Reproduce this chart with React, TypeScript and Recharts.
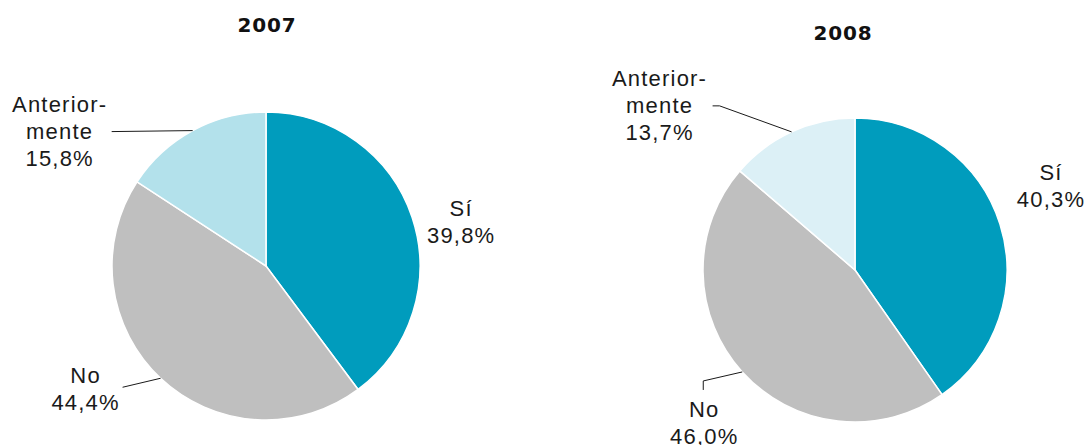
import React from "react";
import { PieChart, Pie, Cell, Customized } from "recharts";

const categories = ["Sí", "No", "Anteriormente"];
const categoryLines = [["Sí"], ["No"], ["Anterior-", "mente"]];
const values2007 = [39.8, 44.4, 15.8];
const values2008 = [40.3, 46.0, 13.7];
const years = ["2007", "2008"];

const colors2007 = ["#009CBD", "#BFBFBF", "#B3E1EB"];
const colors2008 = ["#009CBD", "#BFBFBF", "#DCF0F6"];

const data2007 = categories.map((name, i) => ({ name, value: values2007[i] }));
const data2008 = categories.map((name, i) => ({ name, value: values2008[i] }));

const FONT = "'Liberation Sans', Arial, sans-serif";
const TITLE_FONT = "'DejaVu Sans', Verdana, sans-serif";
const FS = 22;
const LH = 27;
const RAD = Math.PI / 180;

type LabelLayout = { text: [number, number]; leader: [number, number][] };

const layout2007: LabelLayout[] = [
  { text: [49, 5], leader: [] },
  { text: [-75, 11], leader: [[-38, 9]] },
  { text: [-133, 1], leader: [[-81, 1]] },
];
const layout2008: LabelLayout[] = [
  { text: [51, -38], leader: [] },
  { text: [-38, 51], leader: [[-39, 9], [-39, 18]] },
  { text: [-132, -26], leader: [[-72, -26], [-79, -26]] },
];

const fmt = (v: number) => v.toFixed(1).replace(".", ",") + "%";

const makeLabel = (layout: LabelLayout[]) => (props: any) => {
  const { cx, cy, midAngle, outerRadius, index, value } = props;
  const ax = cx + outerRadius * Math.cos(-midAngle * RAD);
  const ay = cy + outerRadius * Math.sin(-midAngle * RAD);
  const l = layout[index];
  const lines = [...categoryLines[index], fmt(value)];
  const tx = ax + l.text[0];
  const tyc = ay + l.text[1];
  const pts = [[ax, ay], ...l.leader.map(([dx, dy]) => [ax + dx, ay + dy])];
  return (
    <g key={`lbl-${index}`}>
      {l.leader.length > 0 && (
        <polyline
          points={pts.map((p) => p.join(",")).join(" ")}
          fill="none"
          stroke="#1a1a1a"
          strokeWidth={1}
        />
      )}
      <text
        x={tx}
        textAnchor="middle"
        fontFamily={FONT}
        fontSize={FS}
        letterSpacing={1.2}
        fill="#1a1a1a"
      >
        {lines.map((t, i) => (
          <tspan key={i} x={tx} y={tyc + (i - (lines.length - 1) / 2) * LH + FS * 0.34}>
            {t}
          </tspan>
        ))}
      </text>
    </g>
  );
};

const Titles = () => (
  <g>
    <text x={267} y={32} textAnchor="middle" fontFamily={TITLE_FONT} fontWeight="bold" fontSize={20} letterSpacing={0.8} fill="#111">
      {years[0]}
    </text>
    <text x={843} y={40} textAnchor="middle" fontFamily={TITLE_FONT} fontWeight="bold" fontSize={20} letterSpacing={0.8} fill="#111">
      {years[1]}
    </text>
  </g>
);

export default function App() {
  return (
    <div style={{ position: "absolute", left: 0, top: 0, width: 1085, height: 445, background: "#fff" }}>
      <PieChart width={1085} height={445} margin={{ top: 0, right: 0, bottom: 0, left: 0 }}>
        <Pie
          data={data2007}
          dataKey="value"
          nameKey="name"
          cx={266}
          cy={266}
          outerRadius={154}
          startAngle={90}
          endAngle={-270}
          stroke="#fff"
          strokeWidth={1.5}
          isAnimationActive={false}
          labelLine={false}
          label={makeLabel(layout2007)}
        >
          {data2007.map((d, i) => (
            <Cell key={d.name} fill={colors2007[i]} />
          ))}
        </Pie>
        <Pie
          data={data2008}
          dataKey="value"
          nameKey="name"
          cx={855}
          cy={270}
          outerRadius={152}
          startAngle={90}
          endAngle={-270}
          stroke="#fff"
          strokeWidth={1.5}
          isAnimationActive={false}
          labelLine={false}
          label={makeLabel(layout2008)}
        >
          {data2008.map((d, i) => (
            <Cell key={d.name} fill={colors2008[i]} />
          ))}
        </Pie>
        <Customized component={Titles} />
      </PieChart>
    </div>
  );
}
